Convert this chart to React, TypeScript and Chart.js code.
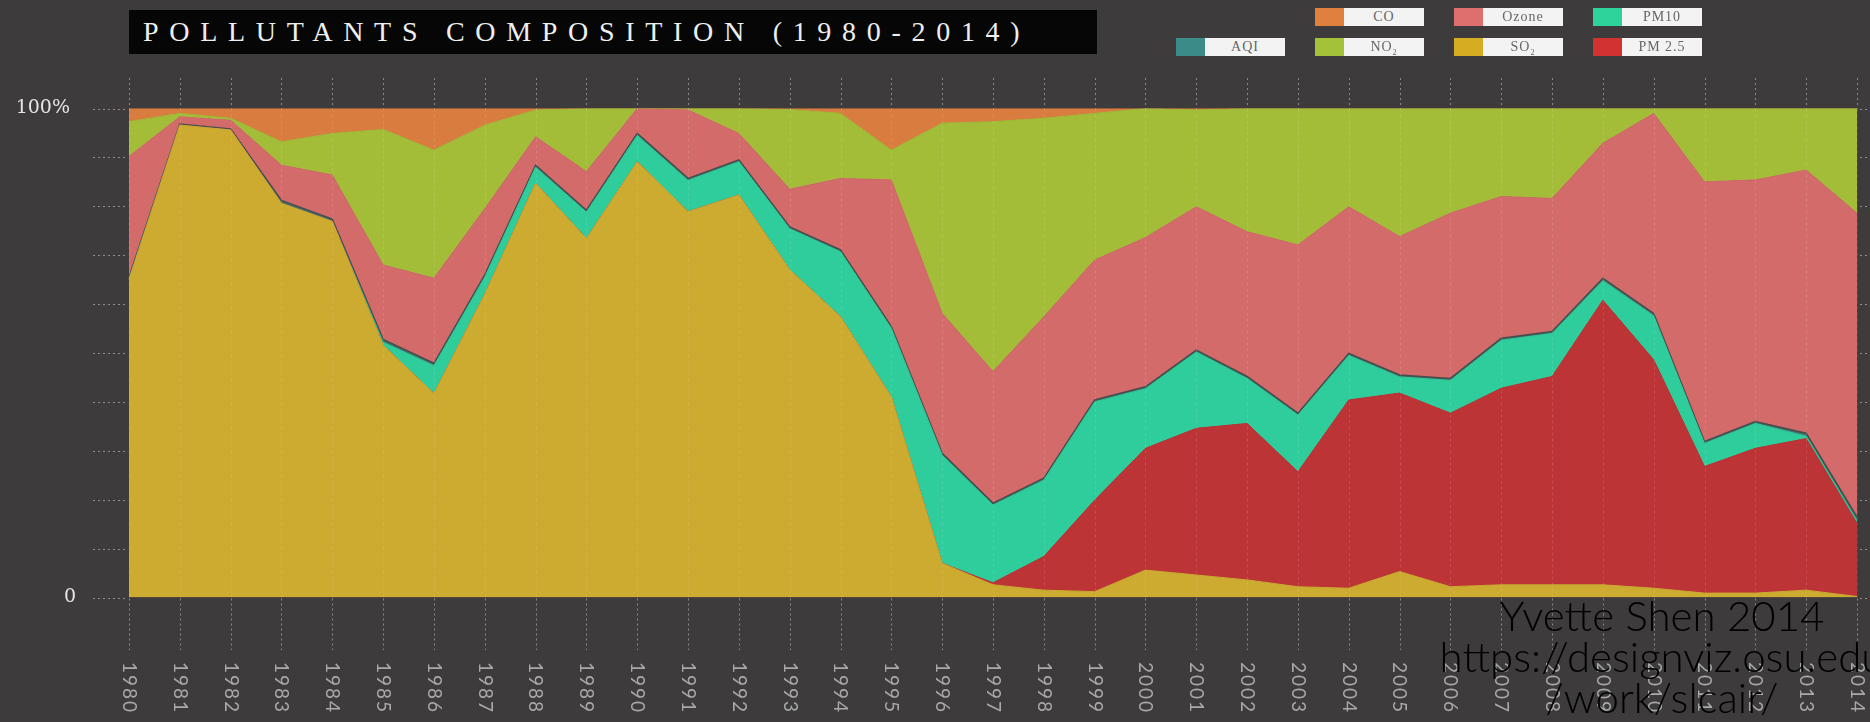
import React, { useEffect, useRef } from "react";
import { Chart, registerables } from "chart.js";

Chart.register(...registerables);

// ---- data (percent share of each pollutant, stacked to 100%) ----
const years = [
  "1980", "1981", "1982", "1983", "1984", "1985", "1986", "1987", "1988", "1989",
  "1990", "1991", "1992", "1993", "1994", "1995", "1996", "1997", "1998", "1999",
  "2000", "2001", "2002", "2003", "2004", "2005", "2006", "2007", "2008", "2009",
  "2010", "2011", "2012", "2013", "2014",
];

const so2 = [
  65, 96.6, 95.6, 80.6, 76.9, 51.6, 41.7, 62, 84.7, 73.4,
  89.1, 78.9, 82.3, 67, 57.4, 41, 7, 2.6, 1.5, 1.2,
  5.6, 4.6, 3.6, 2.2, 1.9, 5.3, 2.2, 2.6, 2.6, 2.6,
  1.9, 0.9, 0.9, 1.5, 0.2,
];
const pm25 = [
  0, 0, 0, 0, 0, 0, 0, 0, 0, 0,
  0, 0, 0, 0, 0, 0, 0, 0.4, 6.9, 18.7,
  24.9, 30.0, 32.0, 23.5, 38.5, 36.5, 35.5, 40.2, 42.6, 58.2,
  46.7, 25.9, 29.6, 31.0, 15.0,
];
const pm10 = [
  0.2, 0, 0, 0, 0, 0.6, 5.7, 3.5, 3.3, 5.4,
  5.4, 6.4, 6.8, 8.4, 13.3, 14.0, 22.1, 15.9, 15.6, 20.1,
  12.2, 15.6, 9.2, 11.6, 9.1, 3.3, 6.7, 9.8, 8.8, 4.0,
  9.0, 4.7, 5.1, 0.5, 0.5,
];
const aqi = [
  0.3, 0.2, 0.2, 0.6, 0.5, 0.6, 0.5, 0.5, 0.4, 0.4,
  0.4, 0.4, 0.4, 0.4, 0.4, 0.4, 0.4, 0.4, 0.4, 0.4,
  0.4, 0.4, 0.4, 0.4, 0.4, 0.4, 0.4, 0.4, 0.4, 0.5,
  0.5, 0.4, 0.4, 0.6, 0.8,
];
const ozone = [
  24.7, 1.5, 1.8, 7.2, 9.0, 15.2, 17.4, 13.5, 5.8, 7.9,
  5.1, 14.0, 5.4, 7.7, 14.6, 30.0, 28.6, 26.9, 33.0, 28.6,
  30.5, 29.3, 29.6, 34.4, 30.0, 28.3, 33.8, 29.0, 27.2, 27.6,
  40.9, 53.1, 49.4, 53.8, 62.1,
];
const no2 = [
  7.1, 0.7, 0.4, 4.8, 8.5, 27.7, 26.2, 17.1, 5.5, 12.9,
  0, 0.3, 5.1, 16.3, 13.3, 6.1, 38.9, 51.1, 40.6, 30.0,
  26.4, 19.8, 25.2, 27.9, 20.1, 26.2, 21.4, 18.0, 18.4, 7.1,
  1.0, 15.0, 14.6, 12.6, 21.4,
];
const co = [
  2.7, 1.0, 2.0, 6.8, 5.1, 4.3, 8.5, 3.4, 0.3, 0,
  0, 0, 0, 0.2, 1.0, 8.5, 3.0, 2.7, 2.0, 1.0,
  0, 0.3, 0, 0, 0, 0, 0, 0, 0, 0,
  0, 0, 0, 0, 0,
];

const yTicks = [0, 10, 20, 30, 40, 50, 60, 70, 80, 90, 100];
const yTickLabels: Record<number, string> = { 0: "0", 100: "100%" };

const seriesNames = ["SO2", "PM 2.5", "PM10", "AQI", "Ozone", "NO2", "CO"];
const seriesData = [so2, pm25, pm10, aqi, ozone, no2, co];
const seriesColors = ["#ccab30", "#bd3437", "#2ecd9b", "#456e6a", "#d46b6b", "#a3bd39", "#d97c3f"];

const BG = "#3d3b3c";

const decorPlugin = {
  id: "decor",
  afterDatasetsDraw(chart: any) {
    const { ctx, chartArea: ca, scales } = chart;
    const xs = scales.x;
    const ys = scales.y;
    const line = (x1: number, y1: number, x2: number, y2: number) => {
      ctx.beginPath();
      ctx.moveTo(x1, y1);
      ctx.lineTo(x2, y2);
      ctx.stroke();
    };
    ctx.save();
    ctx.lineWidth = 1;
    // faint year lines across the plot
    ctx.setLineDash([3, 3]);
    ctx.strokeStyle = "rgba(255,255,255,0.12)";
    years.forEach((_, i) => {
      const x = Math.round(xs.getPixelForValue(i)) + 0.5;
      line(x, ca.top, x, ca.bottom);
    });
    // dotted year lines above / below the plot
    ctx.setLineDash([2, 3]);
    ctx.strokeStyle = "rgba(200,200,200,0.55)";
    years.forEach((_, i) => {
      const x = Math.round(xs.getPixelForValue(i)) + 0.5;
      line(x, 78, x, ca.top);
      line(x, ca.bottom + 1, x, 650);
    });
    // y ticks (left and right)
    ctx.strokeStyle = "rgba(200,200,200,0.6)";
    yTicks.forEach((v) => {
      const y = Math.round(ys.getPixelForValue(v)) + 0.5;
      line(93, y, ca.left - 3, y);
      line(ca.right + 3, y, 1870, y);
    });
    ctx.setLineDash([]);
    // y labels
    ctx.fillStyle = "#e6e6e6";
    ctx.font = "19px 'DejaVu Serif', serif";
    ctx.textBaseline = "middle";
    ctx.textAlign = "right";
    yTicks.forEach((v) => {
      const lbl = yTickLabels[v];
      if (!lbl) return;
      const y = ys.getPixelForValue(v);
      ctx.fillText(lbl, v === 0 ? 76 : 70, y);
    });
    // x labels rotated clockwise
    ctx.fillStyle = "#a9a9a9";
    ctx.font = "19px Lato, 'DejaVu Sans', sans-serif";
    try {
      (ctx as any).letterSpacing = "2px";
    } catch (e) {}
    ctx.textAlign = "left";
    ctx.textBaseline = "middle";
    years.forEach((lbl, i) => {
      const x = xs.getPixelForValue(i);
      ctx.save();
      ctx.translate(x, 662);
      ctx.rotate(Math.PI / 2);
      ctx.fillText(lbl, 0, 0);
      ctx.restore();
    });
    ctx.restore();
  },
};

const legendItems = [
  { name: "CO", color: "#e0803d", left: 1315, top: 8 },
  { name: "Ozone", color: "#df6f6f", left: 1454, top: 8 },
  { name: "PM10", color: "#2dd39b", left: 1593, top: 8 },
  { name: "AQI", color: "#3b8c88", left: 1176, top: 38 },
  { name: "NO2", color: "#a3c23a", left: 1315, top: 38 },
  { name: "SO2", color: "#d5ad22", left: 1454, top: 38 },
  { name: "PM 2.5", color: "#d33232", left: 1593, top: 38 },
];

function LegendLabel({ name }: { name: string }) {
  if (name === "NO2" || name === "SO2") {
    return (
      <span>
        {name.slice(0, 2)}
        <sub style={{ fontSize: 8, verticalAlign: "sub", lineHeight: 0 }}>2</sub>
      </span>
    );
  }
  return <span>{name}</span>;
}

export default function App() {
  const canvasRef = useRef<HTMLCanvasElement | null>(null);

  useEffect(() => {
    const canvas = canvasRef.current;
    if (!canvas) return;
    const chart = new Chart(canvas, {
      type: "line",
      data: {
        labels: years,
        datasets: seriesData.map((d, i) => ({
          label: seriesNames[i],
          data: d,
          backgroundColor: seriesColors[i],
          borderColor: seriesNames[i] === "AQI" ? "rgba(68,78,76,0.95)" : seriesColors[i],
          borderWidth: seriesNames[i] === "AQI" ? 1.5 : 1,
          fill: i === 0 ? "origin" : "-1",
          pointRadius: 0,
          tension: 0,
        })),
      },
      options: {
        animation: false,
        responsive: false,
        devicePixelRatio: 1,
        layout: { padding: { left: 129, right: 13, top: 108.5, bottom: 124.5 } },
        plugins: {
          legend: { display: false },
          tooltip: { enabled: false },
        },
        scales: {
          x: { display: false, offset: false },
          y: { display: false, stacked: true, min: 0, max: 100 },
        },
      },
      plugins: [decorPlugin],
    });
    return () => chart.destroy();
  }, []);

  return (
    <div
      style={{
        position: "absolute",
        left: 0,
        top: 0,
        width: 1870,
        height: 722,
        background: BG,
        overflow: "hidden",
      }}
    >
      <canvas
        ref={canvasRef}
        width={1870}
        height={722}
        style={{ position: "absolute", left: 0, top: 0, display: "block" }}
      />
      {/* title */}
      <div
        style={{
          position: "absolute",
          left: 129,
          top: 10,
          width: 968,
          height: 44,
          background: "#060606",
        }}
      />
      <div
        style={{
          position: "absolute",
          left: 143,
          top: 10,
          height: 44,
          lineHeight: "44px",
          fontFamily: "'Liberation Serif', serif",
          fontSize: 28,
          letterSpacing: "10.7px",
          color: "#efefef",
          whiteSpace: "nowrap",
        }}
      >
        POLLUTANTS COMPOSITION (1980-2014)
      </div>
      {/* legend */}
      {legendItems.map((it) => (
        <div
          key={it.name}
          style={{ position: "absolute", left: it.left, top: it.top, height: 18, display: "flex" }}
        >
          <div style={{ width: 29, height: 18, background: it.color }} />
          <div
            style={{
              width: 80,
              height: 18,
              background: "#f3f3f3",
              color: "#666",
              fontFamily: "'Liberation Serif', serif",
              fontSize: 14,
              lineHeight: "18px",
              letterSpacing: "1px",
              textAlign: "center",
            }}
          >
            <LegendLabel name={it.name} />
          </div>
        </div>
      ))}
      {/* credit */}
      {[
        { text: "Yvette Shen 2014", top: 594 },
        { text: "https://designviz.osu.edu", top: 635 },
        { text: "/work/slcair/", top: 676 },
      ].map((l) => (
        <div
          key={l.text}
          style={{
            position: "absolute",
            left: 1362,
            width: 600,
            top: l.top,
            height: 42,
            lineHeight: "42px",
            textAlign: "center",
            fontFamily: "Lato, 'Open Sans', sans-serif",
            fontWeight: 300,
            fontSize: 42,
            color: "#000",
            whiteSpace: "nowrap",
          }}
        >
          {l.text}
        </div>
      ))}
    </div>
  );
}
